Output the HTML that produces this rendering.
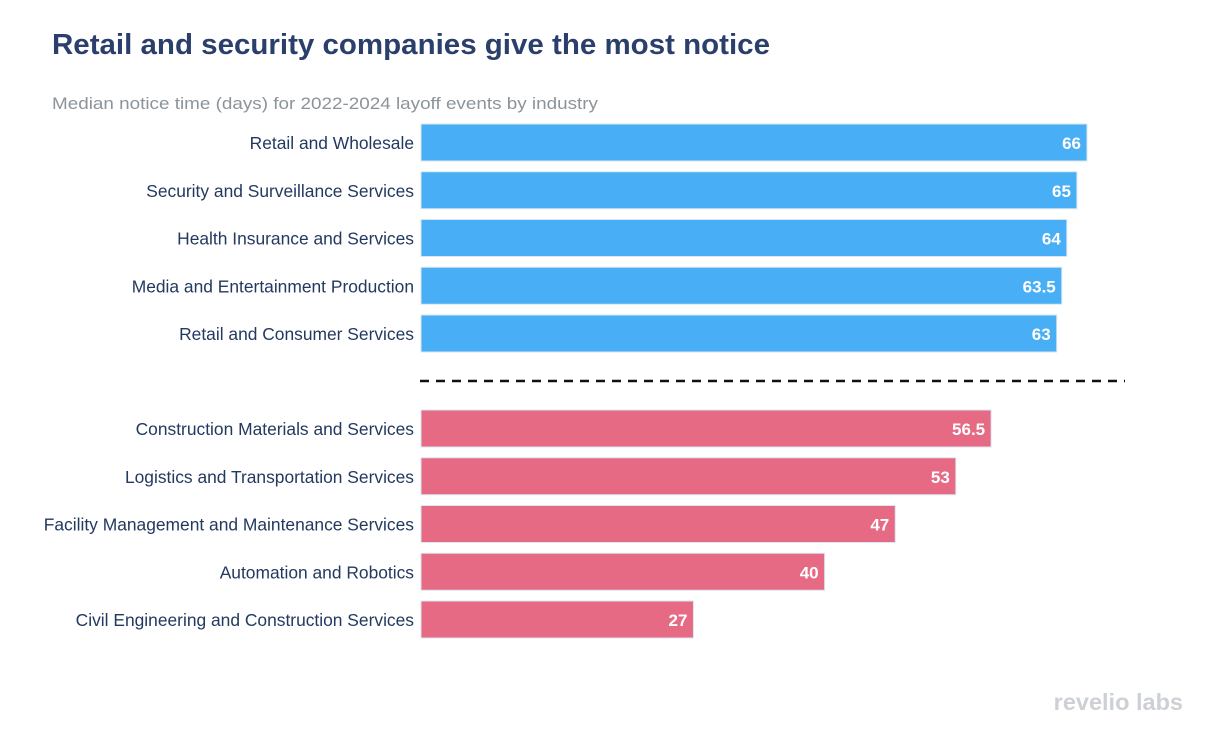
<!DOCTYPE html>
<html><head><meta charset="utf-8"><style>
body{margin:0;background:#fff;}
svg{display:block;font-family:"Liberation Sans",Arial,sans-serif;}
</style></head><body>
<svg id="chart" width="1218" height="748" viewBox="0 0 1218 748">
<text x="52" y="54" font-size="29" font-weight="bold" fill="#2b3f6c" textLength="718" lengthAdjust="spacingAndGlyphs">Retail and security companies give the most notice</text>
<text x="52" y="109" font-size="17" fill="#8b949a" textLength="546" lengthAdjust="spacingAndGlyphs">Median notice time (days) for 2022-2024 layoff events by industry</text>
<line x1="420" y1="381" x2="1125" y2="381" stroke="#111" stroke-width="2.5" stroke-dasharray="9,7"/>
<text x="1183" y="710" text-anchor="end" font-size="23.5" font-weight="bold" fill="#cdd0d4">revelio labs</text>
<g id="bars"></g>
</svg>
<script>
const categories=["Retail and Wholesale","Security and Surveillance Services","Health Insurance and Services","Media and Entertainment Production","Retail and Consumer Services","Construction Materials and Services","Logistics and Transportation Services","Facility Management and Maintenance Services","Automation and Robotics","Civil Engineering and Construction Services"];
const values=[66,65,64,63.5,63,56.5,53,47,40,27];
const groups=["top","top","top","top","top","bottom","bottom","bottom","bottom","bottom"];
const x0=421, pxPer=(1087-421)/66;
const xs=v=>x0+v*pxPer;
const rowY=i=>(i<5?124+i*47.75:410+(i-5)*47.75);
const g=document.getElementById('bars');
const NS="http://www.w3.org/2000/svg";
categories.forEach((c,i)=>{
  const y=rowY(i);
  const r=document.createElementNS(NS,'rect');
  
  
  r.setAttribute('x',x0);r.setAttribute('y',y);
  r.setAttribute('width',xs(values[i])-x0);r.setAttribute('height',37);
  r.setAttribute('fill',groups[i]==='top'?'#48aef5':'#e76a85');
  r.setAttribute('stroke','#dbe6f0');r.setAttribute('stroke-width','1');
  g.appendChild(r);
  const l=document.createElementNS(NS,'text');
  
  
  l.setAttribute('x',414);l.setAttribute('y',y+25);
  l.setAttribute('text-anchor','end');l.setAttribute('font-size','17.4');l.setAttribute('fill','#23395f');
  l.textContent=c;g.appendChild(l);
  const v=document.createElementNS(NS,'text');
  
  
  v.setAttribute('x',xs(values[i])-6);v.setAttribute('y',y+25);
  v.setAttribute('text-anchor','end');v.setAttribute('font-size','17');v.setAttribute('font-weight','bold');v.setAttribute('fill','#fff');
  v.textContent=values[i];g.appendChild(v);
});
</script>
</body></html>
